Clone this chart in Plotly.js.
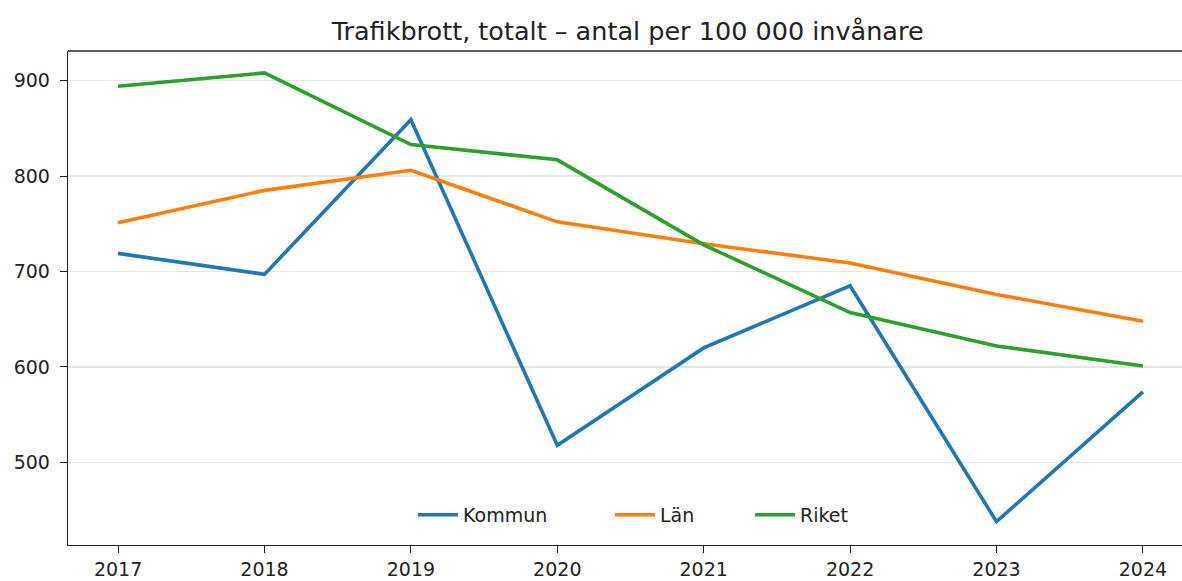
<!DOCTYPE html>
<html>
<head>
<meta charset="utf-8">
<script src="https://cdn.plot.ly/plotly-3.0.1.min.js"></script>
<style>
  html, body { margin: 0; padding: 0; background: #fff; }
  #chart { width: 1182px; height: 581px; }
</style>
</head>
<body>
<div id="chart"></div>
<script>
// Data
const years = [2017, 2018, 2019, 2020, 2021, 2022, 2023, 2024];
const kommun = [719, 697, 859, 518, 620, 685, 438, 574];
const lan = [751, 785, 806, 752, 729, 709, 676, 648];
const riket = [894, 908, 833, 817, 728, 657, 622, 601];
const yTicks = [500, 600, 700, 800, 900];

const FONT = 'DejaVu Sans, sans-serif';
const PLOT_LEFT = 68, PLOT_W = 1114;

function series(name, y, color, legendId) {
    return {
        x: years,
        y: y,
        name: name,
        type: 'scatter',
        mode: 'lines',
        legend: legendId,
        line: { color: color, width: 3.6 }
    };
}

const data = [
    series('Kommun', kommun, '#1f77b4', 'legend'),
    series('Län', lan, '#ff7f0e', 'legend2'),
    series('Riket', riket, '#2ca02c', 'legend3')
];

// one legend box per entry, so the gaps follow the text widths like the reference
function legendAt(px) {
    return {
        orientation: 'h',
        x: (px - PLOT_LEFT) / PLOT_W,
        xanchor: 'left',
        y: 0.061,
        yanchor: 'middle',
        bgcolor: 'rgba(255,255,255,0)',
        borderwidth: 0,
        font: { family: FONT, size: 19, color: '#222' },
        itemwidth: 40
    };
}

const axisBase = {
    zeroline: false,
    showline: true,
    linecolor: '#222',
    linewidth: 1.3,
    ticks: 'outside',
    ticklen: 7,
    tickcolor: '#222',
    tickfont: { family: FONT, size: 19, color: '#222' }
};

const layout = {
    width: 1182,
    height: 581,
    margin: { l: PLOT_LEFT, r: 0, t: 51, b: 36 },
    paper_bgcolor: '#fff',
    plot_bgcolor: '#fff',
    font: { family: FONT, size: 19, color: '#222' },
    title: {
        text: 'Trafikbrott, totalt – antal per 100 000 invånare',
        font: { family: FONT, size: 25.5, color: '#222' },
        x: 0.531,
        xanchor: 'center',
        yref: 'container',
        y: 0.947,
        yanchor: 'middle'
    },
    xaxis: Object.assign({}, axisBase, {
        range: [2016.658, 2024.267],
        tickvals: years,
        ticktext: years.map(String),
        showgrid: false
    }),
    yaxis: Object.assign({}, axisBase, {
        range: [413.5, 931],
        tickvals: yTicks,
        showgrid: true,
        gridcolor: '#e6e6e6',
        gridwidth: 1.2,
        ticklabelstandoff: 6
    }),
    shapes: [{
        type: 'line', xref: 'paper', yref: 'paper',
        x0: 0, x1: 1, y0: 1, y1: 1,
        line: { color: '#222', width: 1.3 }
    }],
    showlegend: true,
    legend: legendAt(413),
    legend2: legendAt(610),
    legend3: legendAt(750)
};

Plotly.newPlot('chart', data, layout, { displayModeBar: false, staticPlot: true });
</script>
</body>
</html>
